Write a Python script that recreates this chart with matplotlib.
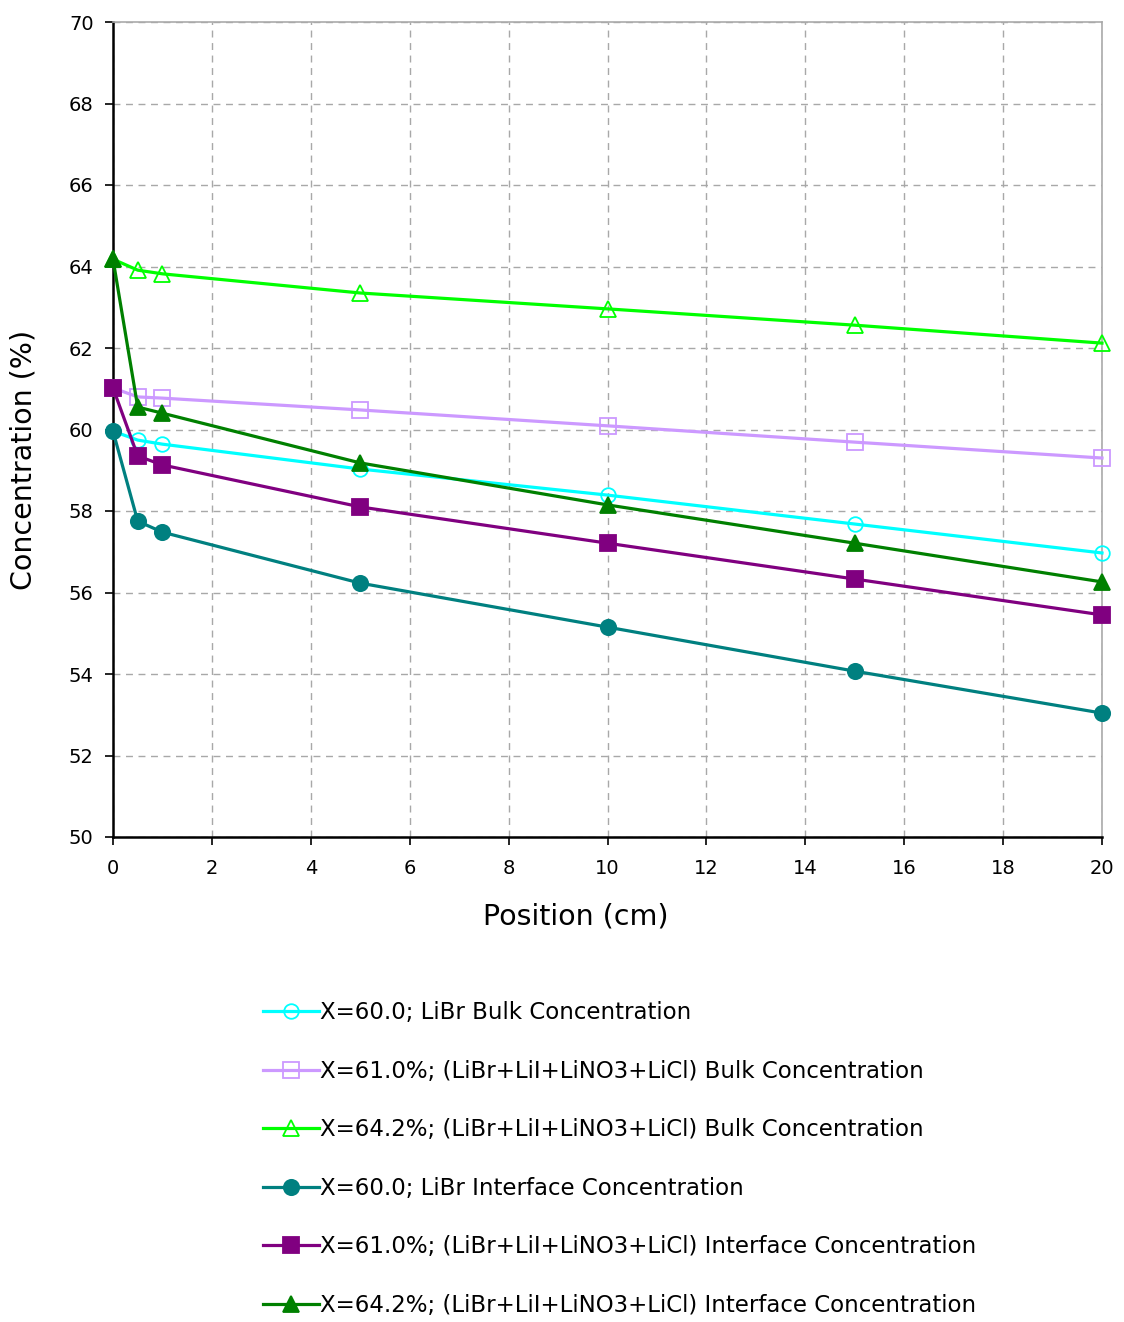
import numpy as np
import matplotlib
matplotlib.use("Agg")
import matplotlib.pyplot as plt

plt.rcParams['font.family'] = ['DejaVu Sans']

# positions along the film (cm)
position = [0, 0.5, 1, 5, 10, 15, 20]

# bulk concentrations
bulk_libr_60 = [59.96, 59.74, 59.64, 59.03, 58.39, 57.68, 56.97]
bulk_mix_61 = [61.02, 60.80, 60.77, 60.48, 60.09, 59.69, 59.30]
bulk_mix_642 = [64.18, 63.91, 63.82, 63.35, 62.96, 62.56, 62.12]

# interface concentrations
intf_libr_60 = [59.96, 57.75, 57.48, 56.23, 55.15, 54.07, 53.04]
intf_mix_61 = [61.02, 59.35, 59.13, 58.10, 57.21, 56.33, 55.45]
intf_mix_642 = [64.18, 60.55, 60.40, 59.18, 58.15, 57.21, 56.26]

labels = [
    "X=60.0; LiBr Bulk Concentration",
    "X=61.0%; (LiBr+LiI+LiNO3+LiCl) Bulk Concentration",
    "X=64.2%; (LiBr+LiI+LiNO3+LiCl) Bulk Concentration",
    "X=60.0; LiBr Interface Concentration",
    "X=61.0%; (LiBr+LiI+LiNO3+LiCl) Interface Concentration",
    "X=64.2%; (LiBr+LiI+LiNO3+LiCl) Interface Concentration",
]

W, H = 1124, 1322
fig = plt.figure(figsize=(W / 100, H / 100), dpi=100)
ax = fig.add_axes([113 / W, 1 - 837 / H, (1102 - 113) / W, (837 - 22) / H])

series = [
    (bulk_libr_60, '#00FFFF', 'o', 'none', 10.5),
    (bulk_mix_61, '#CC99FF', 's', 'none', 11),
    (bulk_mix_642, '#00FF00', '^', 'none', 11),
    (intf_libr_60, '#008080', 'o', None, 11),
    (intf_mix_61, '#800080', 's', None, 11.5),
    (intf_mix_642, '#008000', '^', None, 11.5),
]

for (vals, col, mk, mfc, ms), lab in zip(series, labels):
    ax.plot(position, vals, color=col, lw=2.3, marker=mk, ms=ms,
            mfc=(col if mfc is None else 'none'), mec=col, mew=1.3,
            label=lab, clip_on=False, zorder=3)

ax.set_xlim(0, 20)
ax.set_ylim(50, 70)
ax.set_xticks(np.arange(0, 21, 2))
ax.set_yticks(np.arange(50, 71, 2))
ax.grid(True, color='#a8a8a8', ls=(0, (5, 4)), lw=1)
ax.tick_params(direction='out', length=6, width=1.2, labelsize=14, colors='black')
ax.tick_params(axis='x', pad=10)
ax.tick_params(axis='y', pad=8)
for s in ['left', 'bottom']:
    ax.spines[s].set_color('black')
    ax.spines[s].set_linewidth(1.8)
for s in ['top', 'right']:
    ax.spines[s].set_color('#aaaaaa')
    ax.spines[s].set_linewidth(1.2)

ax.set_xlabel("Position (cm)", fontsize=20.5)
ax.xaxis.set_label_coords((576 - 113) / 989, -(902 - 837) / 815)
ax.set_ylabel("Concentration (%)", fontsize=20.5)
ax.yaxis.set_label_coords(-(113 - 38) / 989, 1 - (460 - 22) / 815)

fig.legend(loc='upper left', bbox_to_anchor=(254 / W, 1 - 992 / H),
           frameon=False, fontsize=16.5, labelspacing=1.55, handlelength=2.45,
           handletextpad=0.05, borderaxespad=0)

fig.savefig("out.png", dpi=100)
